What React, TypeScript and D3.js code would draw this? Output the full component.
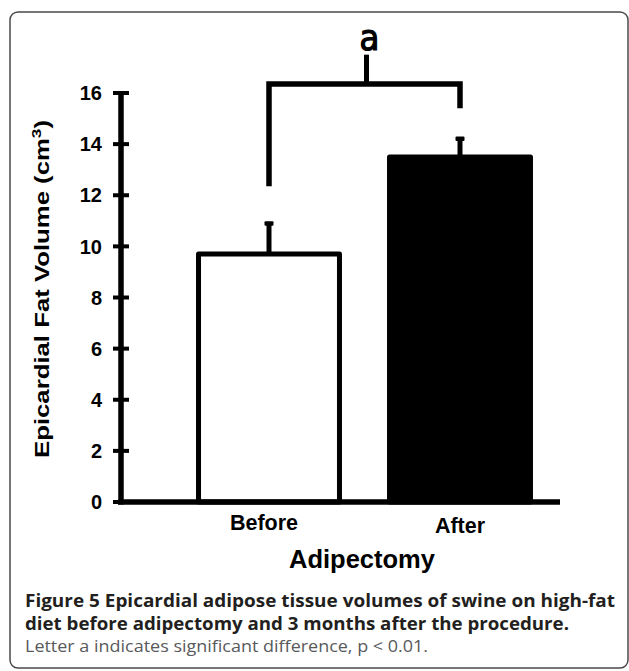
import React from "react";
import * as d3 from "d3";

const categories = ["Before", "After"];
const means = [9.7, 13.5];
const errors = [1.2, 0.72];
const barFills = ["#ffffff", "#000000"];
const yTicks = [0, 2, 4, 6, 8, 10, 12, 14, 16];
const yDomain = [0, 16];
const bracketLevel = 16.35;
const bracketEnds = [12.35, 15.4];
const bracketStemTop = 17.5;
const sigLabel = "a";
const xTitle = "Adipectomy";
const captionBold = [
  "Figure 5 Epicardial adipose tissue volumes of swine on high-fat",
  "diet before adipectomy and 3 months after the procedure.",
];
const captionNote = "Letter a indicates significant difference, p < 0.01.";

export default function App() {
  const W = 629;
  const H = 671;
  const y = d3.scaleLinear().domain(yDomain).range([502, 93]);
  const x = d3
    .scaleBand<string>()
    .domain(categories)
    .range([173.5, 555.5])
    .paddingInner(0.262)
    .paddingOuter(0.131);
  const bw = x.bandwidth();
  const cx = (c: string) => (x(c) as number) + bw / 2;
  const xL = cx(categories[0]);
  const xR = cx(categories[1]);
  const xMid = (xL + xR) / 2 + 2;
  const axisFont = "'Liberation Sans', Arial, sans-serif";
  const capFont = "'Open Sans', 'Noto Sans', sans-serif";

  return (
    <svg
      width={W}
      height={H}
      style={{ position: "absolute", left: 0, top: 0, background: "#fff" }}
    >
      <rect x={0} y={0} width={W} height={H} fill="#fff" />
      {/* frame */}
      <rect
        x={10}
        y={12}
        width={618}
        height={656}
        rx={8}
        ry={8}
        fill="none"
        stroke="#4a4a4a"
        strokeWidth={1.5}
      />

      {/* bars */}
      {categories.map((c, i) => (
        <rect
          key={c}
          x={x(c)}
          y={y(means[i])}
          width={bw}
          height={y(0) - y(means[i])}
          fill={barFills[i]}
          stroke="#000"
          strokeWidth={5}
          strokeLinejoin="round"
        />
      ))}

      {/* error bars */}
      {categories.map((c, i) => {
        const top = y(means[i] + errors[i]);
        return (
          <g key={"e" + c}>
            <line
              x1={cx(c)}
              x2={cx(c)}
              y1={y(means[i])}
              y2={top}
              stroke="#000"
              strokeWidth={5}
            />
            <rect x={cx(c) - 4.5} y={top - 2} width={9} height={4.5} fill="#000" rx={1} />
          </g>
        );
      })}

      {/* significance bracket */}
      <path
        d={`M${xL},${y(bracketEnds[0])} L${xL},${y(bracketLevel)} L${xR},${y(bracketLevel)} L${xR},${y(bracketEnds[1])}`}
        fill="none"
        stroke="#000"
        strokeWidth={5.5}
        strokeLinejoin="miter"
      />
      <line
        x1={xMid}
        x2={xMid}
        y1={y(bracketLevel)}
        y2={y(bracketStemTop)}
        stroke="#000"
        strokeWidth={5}
      />
      <text
        x={xMid + 3}
        y={50}
        textAnchor="middle"
        fontFamily="'DejaVu Sans Condensed', 'DejaVu Sans', sans-serif"
        fontSize={36}
        fill="#000"
        stroke="#000"
        strokeWidth={1.2}
      >
        {sigLabel}
      </text>

      {/* y axis */}
      <line x1={121} x2={121} y1={y(16) - 2} y2={y(0) + 2.5} stroke="#000" strokeWidth={5.5} />
      {yTicks.map((t) => (
        <g key={t}>
          <line x1={113} x2={129} y1={y(t)} y2={y(t)} stroke="#000" strokeWidth={4} />
          <text
            x={102}
            y={y(t)}
            dy="0.36em"
            textAnchor="end"
            fontFamily={axisFont}
            fontWeight="bold"
            fontSize={20}
            fill="#000"
          >
            {t}
          </text>
        </g>
      ))}
      {/* x axis */}
      <line x1={118} x2={560} y1={y(0)} y2={y(0)} stroke="#000" strokeWidth={5.5} />
      {categories.map((c, i) => (
        <text
          key={"l" + c}
          x={cx(c) - (i === 0 ? 5 : 0)}
          y={i === 0 ? 530 : 532.5}
          textAnchor="middle"
          fontFamily={axisFont}
          fontWeight="bold"
          fontSize={21.5}
          fill="#000"
        >
          {c}
        </text>
      ))}
      <text
        x={362}
        y={568}
        textAnchor="middle"
        fontFamily={axisFont}
        fontWeight="bold"
        fontSize={25.5}
        fill="#000"
      >
        {xTitle}
      </text>

      {/* y title */}
      <text
        transform={`translate(49,289) rotate(-90)`}
        textAnchor="middle"
        fontFamily={axisFont}
        fontWeight="bold"
        fontSize={19.5}
        fill="#000"
        textLength={338}
        lengthAdjust="spacingAndGlyphs"
      >
        Epicardial Fat Volume (cm
        <tspan fontSize={13} dy={-8}>
          3
        </tspan>
        <tspan dy={8}>)</tspan>
      </text>

      {/* caption */}
      {captionBold.map((line, i) => (
        <text
          key={"c" + i}
          x={25}
          y={607 + i * 22.5}
          fontFamily={capFont}
          fontWeight="bold"
          fontSize={17}
          fill="#231f20"
          textLength={i === 0 ? 590 : 544}
          lengthAdjust="spacingAndGlyphs"
        >
          {line}
        </text>
      ))}
      <text
        x={25}
        y={652}
        fontFamily={capFont}
        fontSize={17}
        fill="#58595b"
        textLength={403}
        lengthAdjust="spacingAndGlyphs"
      >
        {captionNote}
      </text>
    </svg>
  );
}
